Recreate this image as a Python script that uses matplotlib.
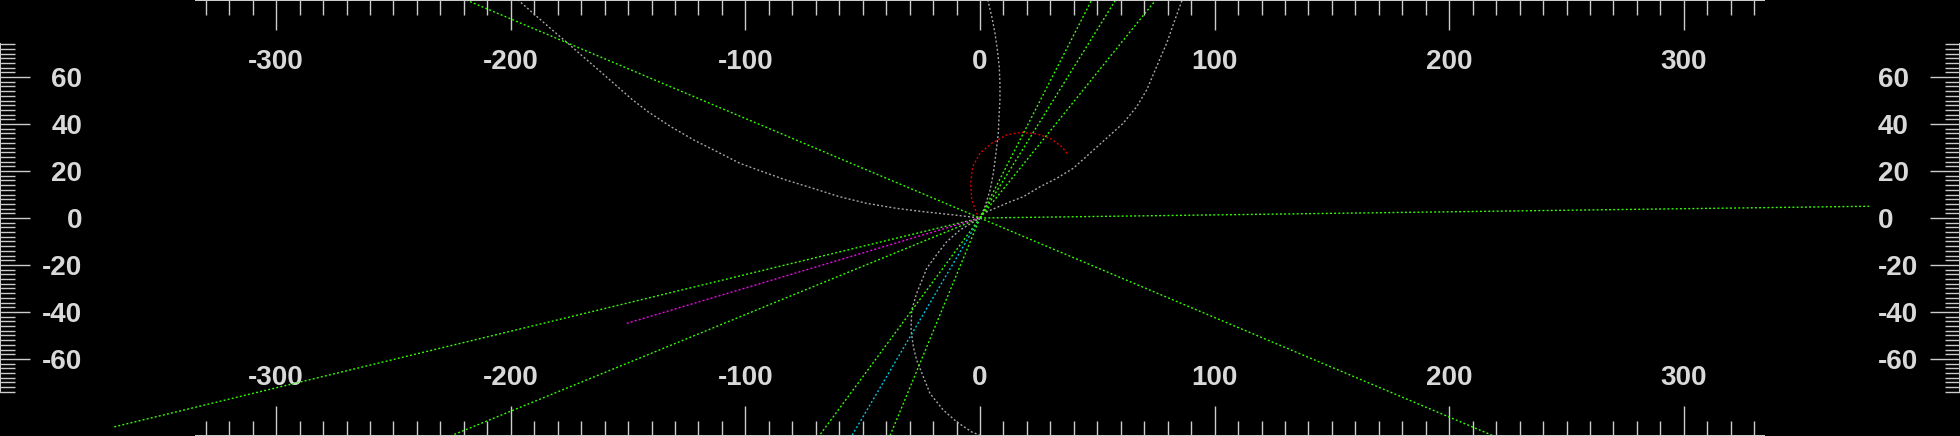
import matplotlib
matplotlib.use("Agg")
import matplotlib.pyplot as plt
import matplotlib.transforms as mtransforms

# ---- data ----
x_major = [-300, -200, -100, 0, 100, 200, 300]
x_minor = list(range(-330, 331, 10))
y_major = [-60, -40, -20, 0, 20, 40, 60]
y_minor = list(range(-74, 75, 2))

# green rays / lines
green_a_x = [-219, 0, 219]
green_a_y = [92.8, 0, -92.8]
green_b_x = [-369, 0]
green_b_y = [-88.9, 0]
green_c_x = [-225.7, 0]
green_c_y = [-92.8, 0]
green_h_x = [0, 379]
green_h_y = [0, 5.0]
green_s1_x = [0, 47.6]
green_s1_y = [0, 92.8]
green_s2_x = [0, 57.8]
green_s2_y = [0, 92.8]
green_s3_x = [0, 74.9]
green_s3_y = [0, 92.8]
green_d1_x = [0, -68.6]
green_d1_y = [0, -92.8]
green_d2_x = [0, -38.4]
green_d2_y = [0, -92.8]

cyan_x = [0, -54.7]
cyan_y = [0, -92.8]

magenta_x = [0, -150.7]
magenta_y = [0, -44.9]

red_x = [0, -1.4, -3.5, -4.0, -3.1, 0, 5.0, 11.4, 17.8, 24.2, 29.8, 34.8, 37.6]
red_y = [0, 2.0, 7.7, 14.8, 21.9, 27.6, 31.8, 35.4, 36.5, 35.8, 34.0, 30.4, 26.9]

grey1_x = [3.3, 5.0, 6.4, 7.4, 8.2, 8.5, 8.5, 8.1, 7.8, 6.8, 5.7, 4.3, 2.1, 0,
           -8.5, -14.2, -18.0, -22.7, -27.0, -29.1, -29.4, -28.4, -27.0, -21.3,
           -15.6, -9.9, -3.5, 0]
grey1_y = [92.9, 85.8, 78.7, 71.6, 64.5, 57.4, 50.3, 43.2, 36.1, 27.6, 19.1, 11.9, 4.8, 0,
           -5.1, -10.1, -15.0, -21.4, -32.1, -39.2, -47.7, -54.9, -60.5, -74.7,
           -81.8, -86.8, -91.1, -92.5]

grey2_x = [-197.0, -190.5, -182.4, -175.8, -169.3, -161.1, -154.6, -148.1, -141.6,
           -131.8, -122.0, -112.2, -102.4, -92.6, -82.8, -71.4, -60.0, -48.6, -35.5,
           -24.1, -11.1, 0, 1.4, 11.4, 18.5, 25.6, 32.7, 39.8, 46.9, 54.0, 61.1, 66.8,
           71.1, 75.3, 79.6, 83.1, 86.2]
grey2_y = [92.9, 87.2, 80.1, 74.5, 68.8, 61.7, 56.0, 50.3, 45.3,
           38.9, 33.2, 28.3, 23.3, 19.7, 16.2, 12.7, 9.1, 6.3, 4.1,
           2.7, 1.3, 0, 2.0, 6.3, 9.1, 13.3, 16.9, 21.2, 27.6, 34.0, 40.4, 47.4,
           54.6, 64.5, 74.5, 84.4, 92.9]

# ---- style ----
plt.rcParams['font.family'] = ['Liberation Sans', 'DejaVu Sans']
GREEN = '#33ff00'
GREY = '#a8a8a8'
RED = '#dd0000'
MAG = '#ff00ff'
CYAN = '#00c8e6'
TICKC = '#cccccc'
LABC = '#d9d9d9'
PX = 0.72  # 1 pixel in points at dpi 100

fig = plt.figure(figsize=(19.6, 4.36), dpi=100, facecolor='black')
ax = fig.add_axes([0, 0, 1, 1])
ax.set_facecolor('black')
ax.set_xlim(-417.7, 417.7)
ax.set_ylim(-92.8, 92.8)

ls = (0, (1.4, 1.6))
lw = 1.0


def draw(x, y, c):
    ax.plot(x, y, color=c, lw=lw, ls=ls, dash_capstyle='butt', dash_joinstyle='round')


for xs, ys in [(grey1_x, grey1_y), (grey2_x, grey2_y)]:
    draw(xs, ys, GREY)
draw(red_x, red_y, RED)
for xs, ys in [(green_a_x, green_a_y), (green_b_x, green_b_y), (green_c_x, green_c_y),
               (green_h_x, green_h_y), (green_s1_x, green_s1_y), (green_s2_x, green_s2_y),
               (green_s3_x, green_s3_y), (green_d1_x, green_d1_y), (green_d2_x, green_d2_y)]:
    draw(xs, ys, GREEN)
draw(cyan_x, cyan_y, CYAN)
draw(magenta_x, magenta_y, MAG)

# ---- axes / ticks ----
ax.set_xticks(x_major)
ax.set_xticks(x_minor, minor=True)
ax.set_yticks(y_major)
ax.set_yticks(y_minor, minor=True)
ax.set_xticklabels([str(v) for v in x_major])
ax.set_yticklabels([str(v) for v in y_major])

ax.tick_params(axis='x', which='both', top=True, bottom=True, direction='in',
               color=TICKC, width=1.0)
ax.tick_params(axis='x', which='major', length=30 * PX, labeltop=True, labelbottom=True,
               labelcolor=LABC, labelsize=20, pad=-75 * PX)
ax.tick_params(axis='x', which='minor', length=15 * PX)
ax.tick_params(axis='y', which='both', left=True, right=True, direction='in',
               color=TICKC, width=1.0)
ax.tick_params(axis='y', which='major', length=30 * PX, labelleft=True, labelright=True,
               labelcolor=LABC, labelsize=20, pad=-82 * PX)
ax.tick_params(axis='y', which='minor', length=15 * PX)
for lab in ax.get_xticklabels() + ax.get_yticklabels():
    lab.set_fontweight('bold')

# bottom labels sit slightly lower than the top ones sit high
for t in ax.xaxis.get_major_ticks():
    t.label1.set_transform(t.label1.get_transform() +
                           mtransforms.ScaledTranslation(0, -4 / 100, fig.dpi_scale_trans))

for s in ['top', 'bottom']:
    ax.spines[s].set_bounds(-334, 334)
    ax.spines[s].set_color(TICKC)
    ax.spines[s].set_linewidth(2 * PX)
for s in ['left', 'right']:
    ax.spines[s].set_bounds(-74, 74)
    ax.spines[s].set_color(TICKC)
    ax.spines[s].set_linewidth(2 * PX)

fig.savefig('out.png', dpi=100, facecolor='black')
